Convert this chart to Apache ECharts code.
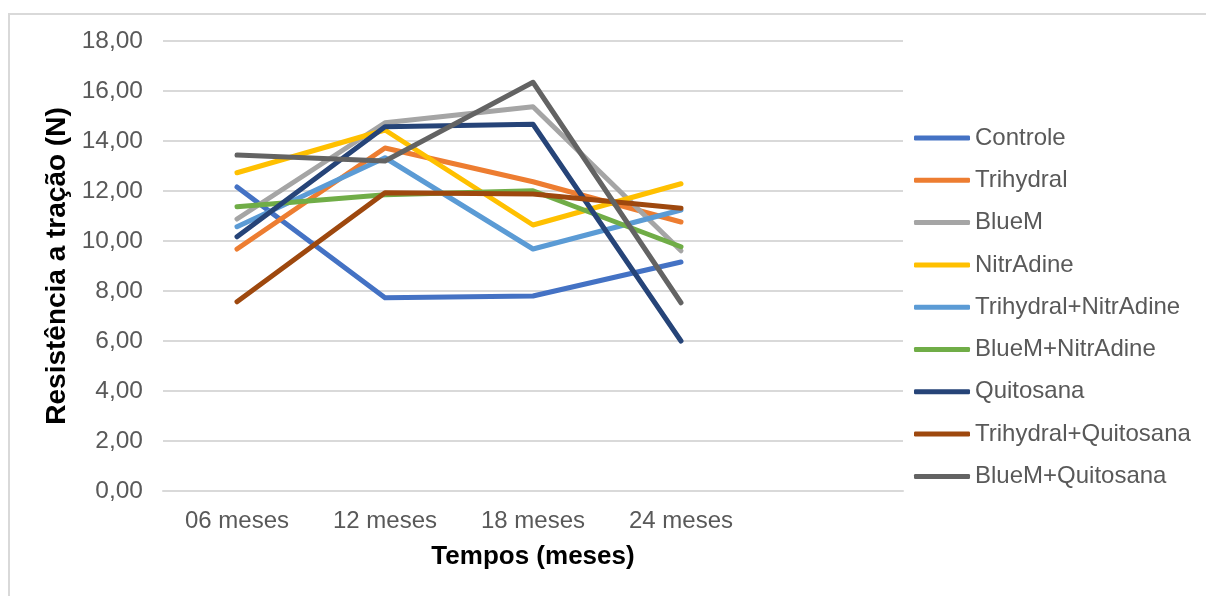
<!DOCTYPE html>
<html>
<head>
<meta charset="utf-8">
<script src="https://cdn.jsdelivr.net/npm/echarts@6/dist/echarts.min.js"></script>
<style>
html,body{margin:0;padding:0;background:#fff;}
#chart{width:1206px;height:596px;}
</style>
</head>
<body>
<div id="chart"></div>
<script>
// Data
var categories = ['06 meses', '12 meses', '18 meses', '24 meses', ''];
var seriesNames = ['Controle', 'Trihydral', 'BlueM', 'NitrAdine', 'Trihydral+NitrAdine', 'BlueM+NitrAdine', 'Quitosana', 'Trihydral+Quitosana', 'BlueM+Quitosana'];
var controle = [12.16, 7.73, 7.80, 9.16];
var trihydral = [9.68, 13.72, 12.37, 10.76];
var bluem = [10.88, 14.73, 15.37, 9.61];
var nitradine = [12.73, 14.44, 10.64, 12.29];
var trihydralNitradine = [10.57, 13.33, 9.68, 11.24];
var bluemNitradine = [11.37, 11.85, 12.01, 9.77];
var quitosana = [10.17, 14.57, 14.67, 6.00];
var trihydralQuitosana = [7.57, 11.93, 11.88, 11.31];
var bluemQuitosana = [13.44, 13.20, 16.35, 7.53];
var yTicks = { min: 0, max: 18, interval: 2 };

var allValues = [controle, trihydral, bluem, nitradine, trihydralNitradine, bluemNitradine, quitosana, trihydralQuitosana, bluemQuitosana];
var colors = ['#4472C4', '#ED7D31', '#A5A5A5', '#FFC000', '#5B9BD5', '#70AD47', '#264478', '#9E480E', '#636363'];

var chart = echarts.init(document.getElementById('chart'), null, { renderer: 'canvas' });
var font = 'Liberation Sans, Arial, sans-serif';

var series = seriesNames.map(function (n, i) {
  return {
    name: n,
    type: 'line',
    data: allValues[i],
    showSymbol: false,
    symbol: 'none',
    lineStyle: { width: 5, color: colors[i], cap: 'round', join: 'round' },
    itemStyle: { color: colors[i] },
    emphasis: { disabled: true },
    animation: false
  };
});

chart.setOption({
  animation: false,
  color: colors,
  graphic: [{
    type: 'rect',
    shape: { x: 9, y: 14, width: 1210, height: 600 },
    style: { fill: 'none', stroke: '#d9d9d9', lineWidth: 2 },
    silent: true
  }],
  grid: { left: 163, right: 303, top: 41, bottom: 105, containLabel: false },
  legend: {
    orient: 'vertical',
    left: 909,
    top: 121,
    itemWidth: 56,
    itemHeight: 5,
    itemGap: 18.3,
    icon: 'roundRect',
    textStyle: { fontFamily: font, fontSize: 24, color: '#595959', lineHeight: 24 },
    data: seriesNames
  },
  xAxis: {
    type: 'category',
    data: categories,
    boundaryGap: true,
    axisLine: { show: true, lineStyle: { color: '#d9d9d9', width: 2 } },
    axisTick: { show: false },
    axisLabel: { fontFamily: font, fontSize: 24, color: '#595959', margin: 18, interval: 0 },
    name: 'Tempos (meses)',
    nameLocation: 'middle',
    nameGap: 53,
    nameTextStyle: { fontFamily: font, fontSize: 26, fontWeight: 'bold', color: '#000', verticalAlign: 'top' }
  },
  yAxis: {
    type: 'value',
    min: yTicks.min,
    max: yTicks.max,
    interval: yTicks.interval,
    axisLine: { show: false },
    axisTick: { show: false },
    splitLine: { lineStyle: { color: '#d9d9d9', width: 2 } },
    axisLabel: {
      fontFamily: font, fontSize: 24.5, color: '#595959', margin: 20,
      formatter: function (v) { return v.toFixed(2).replace('.', ','); }
    },
    name: 'Resistência a tração (N)',
    nameLocation: 'middle',
    nameGap: 86,
    nameRotate: 90,
    nameTextStyle: { fontFamily: font, fontSize: 28, fontWeight: 'bold', color: '#000' }
  },
  series: series
});
</script>
</body>
</html>
